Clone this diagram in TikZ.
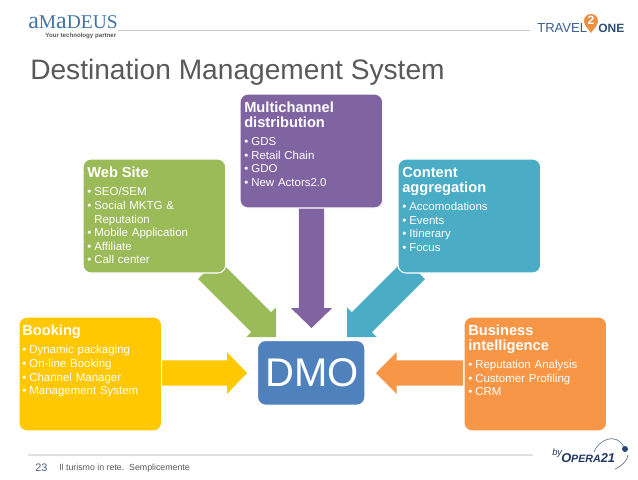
\documentclass[tikz,border=0pt]{standalone}
\usepackage{fontspec}
\setmainfont{Liberation Sans}
\newfontfamily\serifl{Liberation Serif}
\usetikzlibrary{calc}
\definecolor{cgreen}{HTML}{9BBB59}
\definecolor{cpurple}{HTML}{8064A2}
\definecolor{cblue}{HTML}{4BACC6}
\definecolor{corange}{HTML}{F79646}
\definecolor{cyellow}{HTML}{FFC800}
\definecolor{cdmo}{HTML}{4F81BD}
\definecolor{cgray}{HTML}{595959}
\definecolor{cnavy}{HTML}{1F3864}
\definecolor{camadeus}{HTML}{3F76A6}
\definecolor{crule}{HTML}{C8C8C8}
\newcommand{\bl}[1]{\par\hangindent=5.3pt\hangafter=1\noindent\makebox[5.3pt][l]{•}#1}
\newcommand{\hd}[1]{\par\noindent{\fontsize{11}{11}\selectfont\bfseries #1\par}\vspace{3.6pt}}
% block arrow: colour, tail, tip, half shaft, half head, head length (pt)
\newcommand{\blockarrow}[6]{%
  \coordinate (hb) at ($(#3)!#6!(#2)$);
  \fill[#1] ($(#2)!#4!90:(#3)$) -- ($(hb)!#4!90:(#3)$) -- ($(hb)!#5!90:(#3)$) -- (#3)
    -- ($(hb)!#5!-90:(#3)$) -- ($(hb)!#4!-90:(#3)$) -- ($(#2)!#4!-90:(#3)$) -- cycle;}
\tikzset{
  box/.style={rounded corners=6pt,draw=white,line width=0.8pt,minimum width=#1,inner sep=0pt,outer sep=0pt},
  card/.style={box=107pt,minimum height=85.5pt,anchor=north west},
  cardtext/.style={anchor=north west,text=white,text width=102pt,inner sep=0pt,align=left,
    font=\fontsize{8.6}{10.2}\selectfont},
}
\begin{document}
\begin{tikzpicture}[x=0.75pt,y=-0.75pt]
\useasboundingbox (0,0) rectangle (638,479);
\fill[white] (0,0) rectangle (638,479);

% header / footer
\node[anchor=base west,inner sep=0pt,text=camadeus,font=\serifl\fontsize{14.6}{15}\selectfont] (amadeus) at (28,28) {{\fontsize{18}{15}\selectfont a}M{\fontsize{18}{15}\selectfont a}DEUS};
\node[anchor=base east,inner sep=0pt,text=cgray,font=\fontsize{4.6}{5}\selectfont\bfseries] (partner) at (116.5,37.5) {Your technology partner};
\coordinate (rulea) at (118,30);
\coordinate (ruleb) at (530,30);
\draw[crule,line width=0.6pt] (rulea) -- (ruleb);
\node[anchor=base west,inner sep=0pt,text=cgray,font=\fontsize{21.1}{24}\selectfont] (title) at (30,79) {Destination Management System};

\node[anchor=base west,inner sep=0pt,text=black!25!cdmo,font=\fontsize{9.8}{11}\selectfont] (travel) at (537,32) {TRAVEL};
\fill[corange!95!black] (591,33) .. controls (588,28) and (584,26) .. (584,21) .. controls (584,17) and (587,14) .. (591,14) .. controls (595,14) and (598,17) .. (598,21) .. controls (598,26) and (594,28) .. (591,33) -- cycle;
\node[text=white,font=\fontsize{9}{9}\selectfont\bfseries,inner sep=0pt] (two) at (591,20.5) {2};
\node[anchor=base west,inner sep=0pt,text=black!40!cdmo,font=\fontsize{9}{11}\selectfont\bfseries] (one) at (598,32) {ONE};

\coordinate (rulec) at (28,455);
\coordinate (ruled) at (533,455);
\draw[black!12,line width=0.8pt] (rulec) -- (ruled);
\node[anchor=base west,inner sep=0pt,text=cnavy!80!white,font=\fontsize{8.2}{9}\selectfont] (page) at (35,471) {23};
\node[anchor=base west,inner sep=0pt,text=cgray,font=\fontsize{6.6}{8}\selectfont] (foot) at (59,470.5) {Il turismo in rete.\ \ Semplicemente};

\node[anchor=base west,inner sep=0pt,text=cnavy,font=\fontsize{7}{8}\selectfont\itshape] (by) at (552,455) {by};
\node[anchor=base west,inner sep=0pt,text=cnavy,font=\fontsize{9.6}{10}\selectfont\bfseries\itshape] (opera) at (561,462) {O{\fontsize{8}{8}\selectfont PERA}21};
\draw[cnavy!70,line width=0.5pt] (594,452) .. controls (598,441) and (615,431) .. (624,447);
\draw[cnavy!70,line width=0.5pt] (628,455) .. controls (627,461) and (622,466) .. (615,469);
\fill[cnavy!80!cdmo] (625,449) circle (3);

% central node
\node[box=80.5pt,minimum height=48.5pt,fill=cdmo,anchor=north west,text=white,font=\fontsize{30}{30}\selectfont] (dmo) at (257.5,340.5) {\hspace{1.5pt}DMO};

% coordinates of the arrows
\coordinate (booking-e) at (162,373);
\coordinate (dmo-w) at (247,373);
\coordinate (bi-w) at (463,373);
\coordinate (dmo-e) at (376,373);
\coordinate (multi-s) at (311.5,206);
\coordinate (dmo-n) at (311.5,328);
\coordinate (web-se) at (208,269);
\coordinate (dmo-nw) at (276,337);
\coordinate (content-sw) at (415,269);
\coordinate (dmo-ne) at (347,337);

\blockarrow{cgreen}{web-se}{dmo-nw}{10.6pt}{15.7pt}{15.7pt}
\blockarrow{cblue}{content-sw}{dmo-ne}{10.6pt}{15.7pt}{15.7pt}
\blockarrow{cpurple}{multi-s}{dmo-n}{9.5pt}{15.5pt}{15pt}
\blockarrow{cyellow}{booking-e}{dmo-w}{9.5pt}{15.7pt}{15pt}
\blockarrow{corange}{bi-w}{dmo-e}{9.5pt}{15.7pt}{15.5pt}

% cards
\node[card,fill=cyellow] (booking) at (19,317) {};
\node[card,fill=cgreen] (web) at (83,159) {};
\node[card,fill=cpurple] (multi) at (240,94) {};
\node[card,fill=cblue] (content) at (398,159) {};
\node[card,fill=corange] (bi) at (464,317) {};

\node[cardtext] (bookingt) at ($(booking.north west)+(3,3.5)$) {\hd{Booking}\bl{Dynamic packaging}\bl{On-line Booking}\bl{Channel Manager}\bl{Management System}};
\node[cardtext] (webt) at ($(web.north west)+(4,3.5)$) {\hd{Web Site}\bl{SEO/SEM}\bl{Social MKTG \&\newline Reputation}\bl{Mobile Application}\bl{Affiliate}\bl{Call center}};
\node[cardtext] (multit) at ($(multi.north west)+(4,3.5)$) {\hd{Multichannel\\distribution}\bl{GDS}\bl{Retail Chain}\bl{GDO}\bl{New Actors2.0}};
\node[cardtext] (contentt) at ($(content.north west)+(4,3.5)$) {\hd{Content\\aggregation}\bl{Accomodations}\bl{Events}\bl{Itinerary}\bl{Focus}};
\node[cardtext] (bit) at ($(bi.north west)+(4,3.5)$) {\hd{Business\\intelligence}\bl{Reputation Analysis}\bl{Customer Profiling}\bl{CRM}};
\end{tikzpicture}
\end{document}
